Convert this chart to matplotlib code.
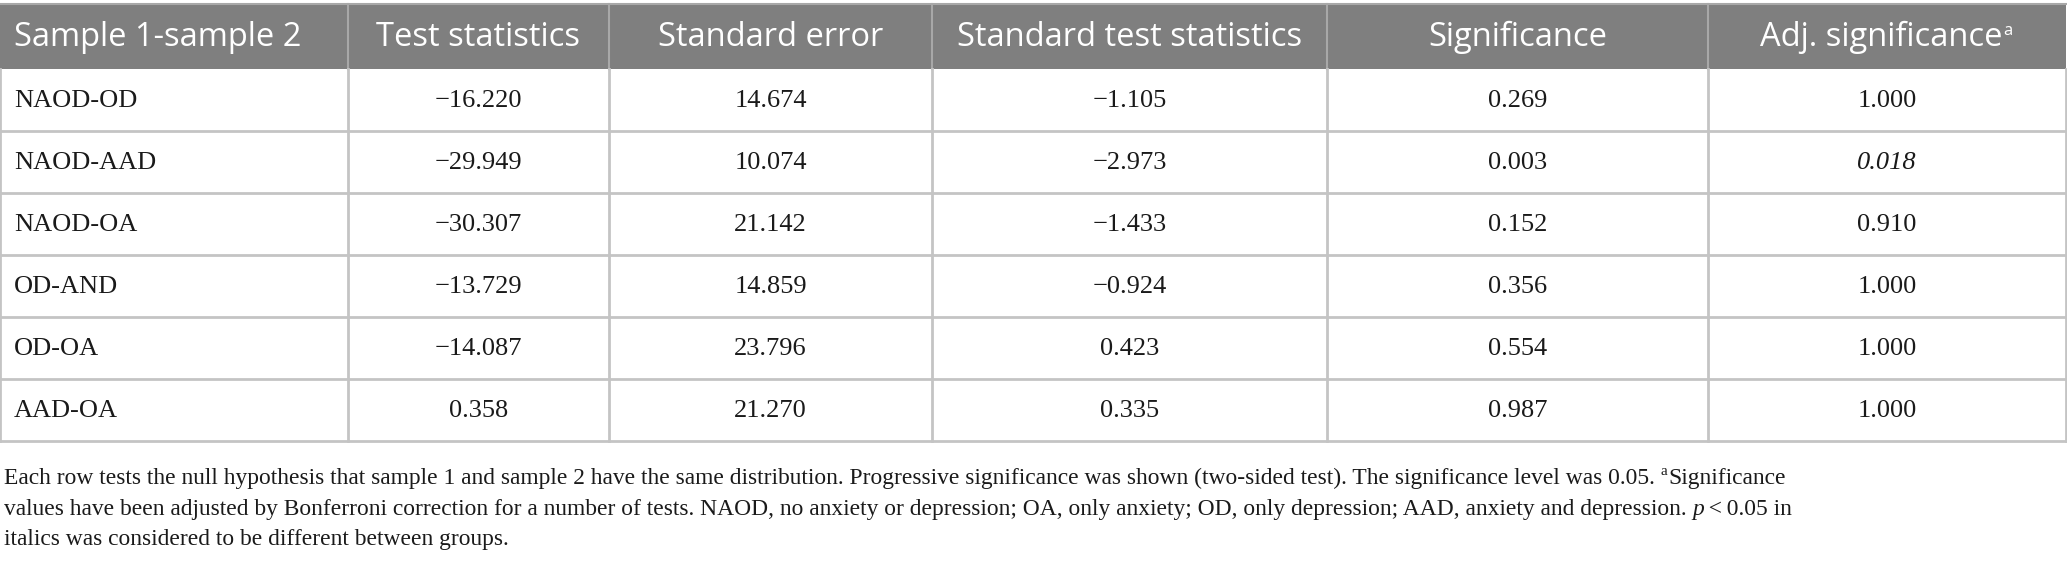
import matplotlib
matplotlib.use("Agg")
import matplotlib.pyplot as plt
from matplotlib.patches import Rectangle

# Contenido de la tabla
headers = ["Sample 1-sample 2", "Test statistics", "Standard error",
           "Standard test statistics", "Significance", "Adj. significance"]
pairs = ["NAOD-OD", "NAOD-AAD", "NAOD-OA", "OD-AND", "OD-OA", "AAD-OA"]
test_stat = ["\u221216.220", "\u221229.949", "\u221230.307", "\u221213.729", "\u221214.087", "0.358"]
std_error = ["14.674", "10.074", "21.142", "14.859", "23.796", "21.270"]
std_test_stat = ["\u22121.105", "\u22122.973", "\u22121.433", "\u22120.924", "0.423", "0.335"]
significance = ["0.269", "0.003", "0.152", "0.356", "0.554", "0.987"]
adj_significance = ["1.000", "0.018", "0.910", "1.000", "1.000", "1.000"]
italic_cells = [(1, 5)]  # (fila, columna) en cursiva

footnote = [
    [("Each row tests the null hypothesis that sample 1 and sample 2 have the same distribution. "
      "Progressive significance was shown (two-sided test). The significance level was 0.05. ", "normal"),
     ("a", "sup"), ("Significance", "normal")],
    [("values have been adjusted by Bonferroni correction for a number of tests. NAOD, no anxiety or "
      "depression; OA, only anxiety; OD, only depression; AAD, anxiety and depression. ", "normal"),
     ("p", "italic"), ("\u2009<\u20090.05 in", "normal")],
    [("italics was considered to be different between groups.", "normal")],
]

W, H = 2067, 569
col_edges = [0, 348, 609, 932, 1327, 1708, 2066]
head_top, head_bot = 4, 69
row_h = 62

SANS = ["Open Sans", "DejaVu Sans"]
SERIF = ["Liberation Serif", "DejaVu Serif"]
head_color = "#7f7f7f"
line_color = "#c4c4c4"
head_fs = 23.5

fig = plt.figure(figsize=(W / 100, H / 100), dpi=100)
ax = fig.add_axes([0, 0, 1, 1])
ax.set_xlim(0, W)
ax.set_ylim(H, 0)
ax.axis("off")

n_rows = len(pairs)
table_bot = head_bot + n_rows * row_h

# Cabecera
ax.add_patch(Rectangle((col_edges[0], head_top), col_edges[-1] - col_edges[0],
                       head_bot - head_top, facecolor=head_color, edgecolor="none"))
for x in col_edges[1:-1]:
    ax.plot([x, x], [head_top, head_bot], color="#a8a8a8", lw=1.5)
ax.plot([col_edges[0], col_edges[-1]], [head_top, head_top], color="#a8a8a8", lw=1.5)

renderer = fig.canvas.get_renderer()
head_y = (head_top + head_bot) / 2 + 1
for j, h in enumerate(headers):
    cx = (col_edges[j] + col_edges[j + 1]) / 2
    if j == 0:
        ax.text(col_edges[0] + 14, head_y, h, color="white", fontsize=head_fs,
                family=SANS, ha="left", va="center")
    elif j == len(headers) - 1:
        t = ax.text(cx - 6, head_y, h, color="white", fontsize=head_fs,
                    family=SANS, ha="center", va="center")
        bb = t.get_window_extent(renderer)
        ax.text(bb.x1 + 1, head_y - 7, "a", color="white", fontsize=12,
                family=SANS, ha="left", va="center")
    else:
        ax.text(cx, head_y, h, color="white", fontsize=head_fs,
                family=SANS, ha="center", va="center")

# Cuerpo
columns = [pairs, test_stat, std_error, std_test_stat, significance, adj_significance]
for i in range(n_rows):
    y0 = head_bot + i * row_h
    yc = y0 + row_h / 2 + 1
    for j, col in enumerate(columns):
        style = "italic" if (i, j) in italic_cells else "normal"
        if j == 0:
            ax.text(col_edges[0] + 14, yc, col[i], fontsize=19, family=SERIF,
                    style=style, ha="left", va="center", color="#1a1a1a")
        else:
            cx = (col_edges[j] + col_edges[j + 1]) / 2
            ax.text(cx, yc, col[i], fontsize=19, family=SERIF, style=style,
                    ha="center", va="center", color="#1a1a1a")
    ax.plot([col_edges[0], col_edges[-1]], [y0 + row_h, y0 + row_h], color=line_color, lw=2)

for x in col_edges:
    ax.plot([x, x], [head_bot, table_bot], color=line_color, lw=2)

# Nota al pie
fn_base = [484, 515, 545]
for line, yb in zip(footnote, fn_base):
    x = 4
    for txt, kind in line:
        if kind == "sup":
            t = ax.text(x, yb - 9, txt, fontsize=11, family=SERIF, ha="left",
                        va="baseline", color="#1a1a1a")
        else:
            t = ax.text(x, yb, txt, fontsize=16.9, family=SERIF,
                        style="italic" if kind == "italic" else "normal",
                        ha="left", va="baseline", color="#1a1a1a")
        bb = t.get_window_extent(renderer)
        x = bb.x1 + (1 if kind == "sup" else 0)

fig.savefig("out.png", dpi=100)
